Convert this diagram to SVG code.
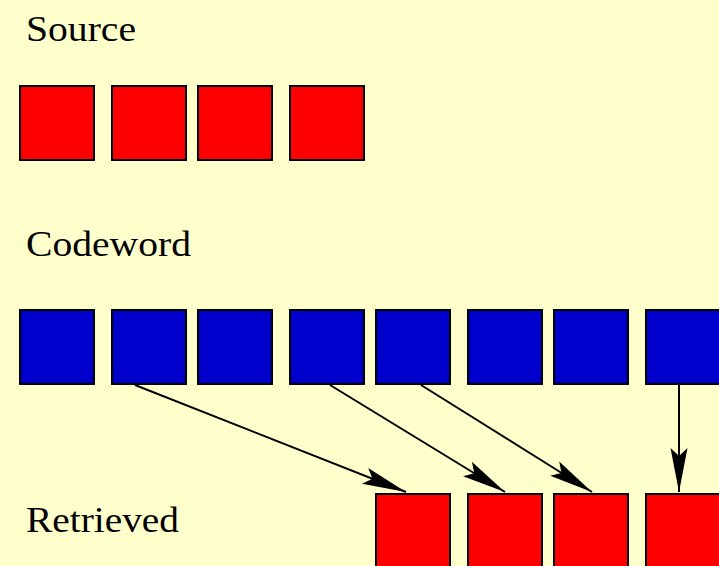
<svg xmlns="http://www.w3.org/2000/svg" width="719" height="566" viewBox="0 0 719 566">
  <defs>
    <style>
      .label { font-family: "Liberation Serif", "Times New Roman", serif; font-size: 36px; fill: #000; }
      .red { fill: #ff0000; stroke: #000; stroke-width: 2; }
      .blue { fill: #0000cc; stroke: #000; stroke-width: 2; }
      .conn { stroke: #000; stroke-width: 2; fill: none; marker-end: url(#arrow); }
    </style>
    <marker id="arrow" markerUnits="userSpaceOnUse" orient="auto" refX="0" refY="0" markerWidth="50" markerHeight="24" viewBox="-46 -12 50 24" overflow="visible">
      <path d="M0,0 L-44,-8.5 L-36,0 L-44,8.5 Z" fill="#000"/>
    </marker>
  </defs>

  <rect width="719" height="566" fill="#ffffcc"/>

  <!-- row labels -->
  <g id="label-source"><text class="label" x="26" y="41" textLength="110" lengthAdjust="spacingAndGlyphs">Source</text></g>
  <g id="label-codeword"><text class="label" x="26" y="256" textLength="165" lengthAdjust="spacingAndGlyphs">Codeword</text></g>
  <g id="label-retrieved"><text class="label" x="26" y="532" textLength="153" lengthAdjust="spacingAndGlyphs">Retrieved</text></g>

  <!-- source symbols -->
  <g id="source">
    <g id="s1"><rect class="red" x="20" y="86" width="74" height="74"/></g>
    <g id="s2"><rect class="red" x="112" y="86" width="74" height="74"/></g>
    <g id="s3"><rect class="red" x="198" y="86" width="74" height="74"/></g>
    <g id="s4"><rect class="red" x="290" y="86" width="74" height="74"/></g>
  </g>

  <!-- codeword symbols -->
  <g id="codeword">
    <g id="c1"><rect class="blue" x="20" y="310" width="74" height="74"/></g>
    <g id="c2"><rect class="blue" x="112" y="310" width="74" height="74"/></g>
    <g id="c3"><rect class="blue" x="198" y="310" width="74" height="74"/></g>
    <g id="c4"><rect class="blue" x="290" y="310" width="74" height="74"/></g>
    <g id="c5"><rect class="blue" x="376" y="310" width="74" height="74"/></g>
    <g id="c6"><rect class="blue" x="468" y="310" width="74" height="74"/></g>
    <g id="c7"><rect class="blue" x="554" y="310" width="74" height="74"/></g>
    <g id="c8"><rect class="blue" x="646" y="310" width="74" height="74"/></g>
  </g>

  <!-- retrieved symbols -->
  <g id="retrieved">
    <g id="r1"><rect class="red" x="376" y="494" width="74" height="74"/></g>
    <g id="r2"><rect class="red" x="468" y="494" width="74" height="74"/></g>
    <g id="r3"><rect class="red" x="554" y="494" width="74" height="74"/></g>
    <g id="r4"><rect class="red" x="646" y="494" width="74" height="74"/></g>
  </g>

  <!-- connectors -->
  <g id="connectors">
    <line class="conn" x1="135" y1="385" x2="406" y2="492"/>
    <line class="conn" x1="330" y1="385" x2="505" y2="492"/>
    <line class="conn" x1="421" y1="385" x2="592" y2="492"/>
    <line class="conn" x1="679" y1="385" x2="679" y2="492"/>
  </g>
</svg>
